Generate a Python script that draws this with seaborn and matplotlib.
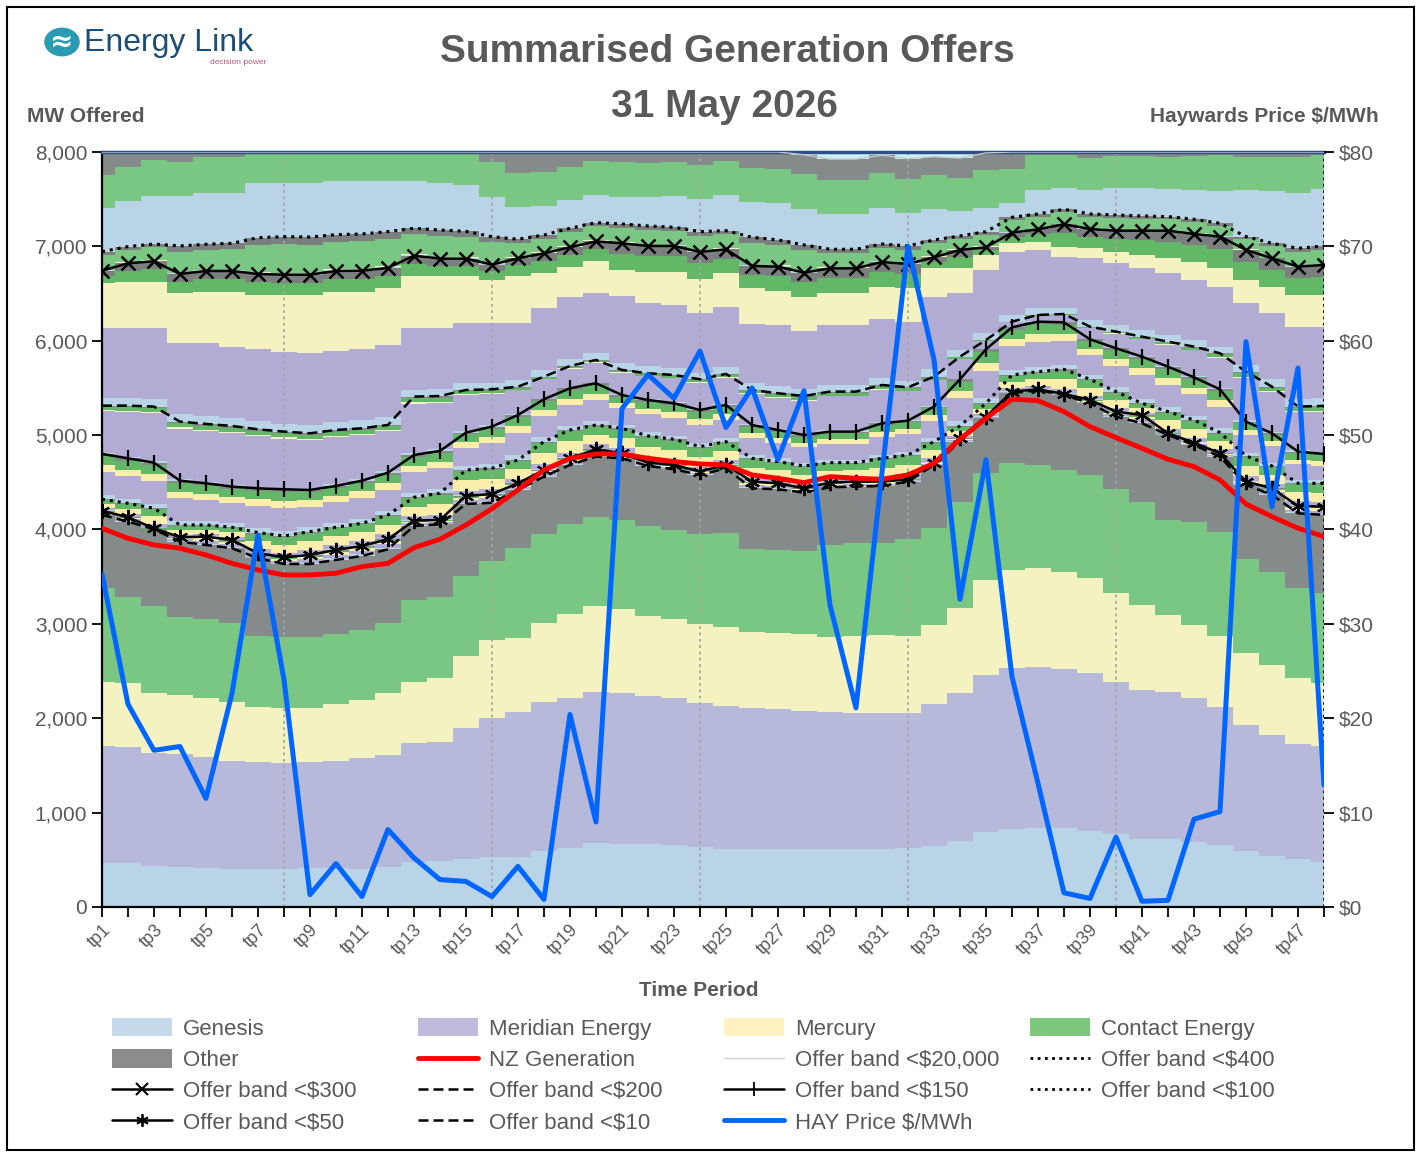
import numpy as np
import seaborn as sns
import matplotlib
matplotlib.use("Agg")
import matplotlib.pyplot as plt
from matplotlib.patches import Patch, Rectangle, Circle
from matplotlib.lines import Line2D

# ---- data (48 trading periods) ----
periods = [f"tp{i}" for i in range(1, 49)]

# cumulative offer band tops (MW)
band_10 = [4154, 4083, 4002, 3871, 3836, 3801, 3695, 3634, 3634, 3677, 3719, 3790, 4037, 4055, 4270, 4283,
           4419, 4560, 4684, 4772, 4754, 4673, 4638, 4578, 4648, 4436, 4426, 4390, 4447, 4454, 4461,
           4507, 4684, 4931, 5178, 5443, 5478, 5425, 5337, 5195, 5125, 5001, 4895, 4772, 4472, 4366, 4172, 4154]
band_50 = [4199, 4129, 4012, 3917, 3924, 3889, 3747, 3705, 3730, 3783, 3825, 3896, 4094, 4101, 4355, 4376,
           4489, 4630, 4754, 4849, 4807, 4708, 4684, 4613, 4684, 4507, 4489, 4436, 4496, 4507, 4507,
           4532, 4708, 4966, 5195, 5461, 5485, 5436, 5372, 5249, 5213, 5019, 4920, 4807, 4507, 4436, 4249, 4242]
band_100 = [4320, 4277, 4224, 4048, 4048, 4023, 3967, 3931, 3977, 4023, 4065, 4154, 4341, 4384, 4630, 4648,
            4736, 4931, 5054, 5107, 5072, 4991, 4956, 4878, 4931, 4754, 4719, 4673, 4708, 4708, 4754,
            4789, 4931, 5097, 5337, 5637, 5672, 5697, 5591, 5461, 5337, 5249, 5160, 5026, 4779, 4673, 4489, 4489]
band_150 = [4800, 4754, 4708, 4517, 4489, 4454, 4436, 4426, 4419, 4461, 4517, 4602, 4789, 4832, 5026, 5090,
            5213, 5380, 5496, 5549, 5425, 5372, 5337, 5266, 5319, 5107, 5054, 5001, 5037, 5037, 5125,
            5153, 5302, 5591, 5909, 6142, 6202, 6195, 6015, 5920, 5831, 5725, 5612, 5485, 5143, 5019, 4825, 4800]
band_200 = [5312, 5312, 5302, 5143, 5118, 5097, 5061, 5037, 5019, 5054, 5072, 5107, 5408, 5414, 5478, 5485,
            5513, 5619, 5732, 5796, 5690, 5655, 5637, 5591, 5648, 5478, 5443, 5414, 5461, 5461, 5531,
            5506, 5619, 5831, 6008, 6202, 6273, 6283, 6149, 6096, 6043, 5990, 5937, 5867, 5672, 5513, 5302, 5309]
band_300 = [6742, 6820, 6842, 6707, 6739, 6739, 6707, 6700, 6700, 6739, 6742, 6771, 6901, 6870, 6870, 6806,
            6873, 6926, 6990, 7053, 7032, 7004, 7004, 6940, 6969, 6792, 6785, 6721, 6767, 6767, 6834,
            6813, 6884, 6962, 6990, 7145, 7180, 7233, 7184, 7166, 7166, 7166, 7131, 7103, 6962, 6873, 6785, 6803]
band_400 = [6944, 6997, 7025, 7004, 7022, 7032, 7092, 7102, 7099, 7124, 7131, 7156, 7191, 7173, 7159, 7102,
            7075, 7120, 7191, 7251, 7237, 7216, 7202, 7156, 7166, 7096, 7068, 7015, 6969, 6969, 7025,
            7004, 7068, 7110, 7156, 7308, 7343, 7393, 7343, 7332, 7322, 7315, 7287, 7244, 7103, 7032, 6979, 7004]
band_20000 = [8000, 8000, 8000, 8000, 8000, 8000, 8000, 8000, 8000, 8000, 8000, 8000, 8000, 8000, 8000, 8000,
              8000, 8000, 8000, 8000, 8000, 8000, 8000, 8000, 8000, 8000, 8000, 7970, 7925, 7925, 7965,
              7930, 7950, 7935, 7990, 8000, 8000, 8000, 8000, 8000, 8000, 8000, 8000, 8000, 8000, 8000, 8000, 8000]

nz_generation = [4012, 3906, 3836, 3801, 3730, 3641, 3571, 3518, 3518, 3536, 3606, 3641, 3807, 3896, 4048, 4220,
                 4419, 4630, 4754, 4800, 4800, 4754, 4719, 4694, 4684, 4578, 4542, 4496, 4560, 4542, 4532,
                 4578, 4701, 4956, 5178, 5380, 5365, 5249, 5090, 4973, 4860, 4744, 4666, 4525, 4270, 4136, 4013, 3925]

hay_price = [35.3, 21.5, 16.6, 17.0, 11.5, 22.6, 39.4, 24.1, 1.3, 4.6, 1.1, 8.2, 5.2, 2.9, 2.7, 1.1,
             4.3, 0.8, 20.4, 9.0, 52.8, 56.4, 53.9, 58.9, 50.8, 55.0, 47.4, 54.7, 32.0, 21.1, 46.0,
             70.0, 58.0, 32.6, 47.4, 24.4, 13.1, 1.5, 0.9, 7.4, 0.6, 0.7, 9.3, 10.1, 59.9, 42.4, 57.1, 12.9]

# company splits inside the <$10 band (cumulative tops, MW)
genesis_10 = [470, 467, 434, 427, 410, 399, 399, 399, 410, 410, 399, 427, 480, 491, 505, 533,
              533, 597, 629, 682, 668, 668, 657, 639, 618, 618, 611, 611, 618, 618, 618,
              622, 646, 703, 798, 823, 834, 834, 800, 770, 717, 717, 692, 657, 597, 540, 505, 480]
meridian_10 = [1706, 1699, 1635, 1621, 1586, 1550, 1536, 1529, 1536, 1550, 1575, 1611, 1741, 1752, 1893, 2005,
               2070, 2169, 2218, 2282, 2271, 2236, 2218, 2158, 2133, 2105, 2095, 2080, 2063, 2052, 2052,
               2052, 2151, 2271, 2458, 2529, 2546, 2519, 2476, 2388, 2299, 2282, 2211, 2123, 1928, 1823, 1727, 1706]
mercury_10 = [2388, 2377, 2264, 2246, 2211, 2176, 2120, 2105, 2105, 2151, 2193, 2264, 2388, 2423, 2660, 2829,
              2847, 3006, 3105, 3189, 3161, 3083, 3052, 2999, 2970, 2911, 2900, 2889, 2864, 2871, 2882,
              2871, 2988, 3165, 3465, 3571, 3589, 3553, 3483, 3330, 3200, 3094, 2988, 2871, 2688, 2564, 2423, 2377]
contact_10 = [3377, 3281, 3189, 3076, 3055, 3006, 2871, 2857, 2857, 2893, 2935, 3006, 3253, 3281, 3507, 3669,
              3801, 3952, 4058, 4136, 4101, 4037, 3995, 3949, 3960, 3790, 3783, 3772, 3836, 3853, 3861,
              3896, 4012, 4295, 4595, 4701, 4684, 4630, 4578, 4426, 4295, 4101, 4083, 3970, 3684, 3553, 3377, 3330]

# company splits inside the <$300 band (cumulative tops, MW)
meridian_300 = [6132, 6132, 6132, 5973, 5973, 5937, 5909, 5884, 5867, 5895, 5909, 5955, 6132, 6132, 6185, 6191,
                6191, 6343, 6460, 6509, 6474, 6403, 6379, 6297, 6361, 6177, 6167, 6107, 6167, 6167, 6227,
                6202, 6467, 6502, 6750, 6944, 6962, 6891, 6873, 6820, 6767, 6714, 6644, 6573, 6397, 6291, 6149, 6149]
mercury_300 = [6608, 6626, 6626, 6502, 6520, 6520, 6485, 6485, 6485, 6520, 6520, 6555, 6686, 6686, 6686, 6644,
               6686, 6721, 6778, 6848, 6750, 6732, 6732, 6651, 6714, 6555, 6530, 6467, 6502, 6502, 6573,
               6555, 6767, 6767, 6909, 7032, 7050, 6997, 6979, 6944, 6909, 6873, 6838, 6767, 6644, 6573, 6485, 6485]

# company splits inside the <$20,000 band (cumulative tops, MW)
genesis_20000 = [7403, 7481, 7534, 7534, 7569, 7569, 7668, 7668, 7668, 7696, 7696, 7696, 7696, 7668, 7650, 7527,
                 7421, 7431, 7488, 7544, 7527, 7523, 7534, 7502, 7544, 7470, 7456, 7399, 7346, 7346, 7410,
                 7350, 7396, 7375, 7403, 7456, 7597, 7615, 7597, 7615, 7615, 7604, 7597, 7590, 7597, 7590, 7569, 7604]
contact_20000 = [7756, 7845, 7915, 7897, 7944, 7944, 7986, 7986, 7986, 7986, 7986, 7986, 7986, 7986, 7986, 7890,
                 7781, 7791, 7845, 7905, 7890, 7880, 7894, 7862, 7905, 7834, 7816, 7767, 7703, 7703, 7774,
                 7714, 7756, 7728, 7809, 7816, 7968, 7968, 7933, 7958, 7958, 7951, 7958, 7968, 7951, 7951, 7944, 7968]

# approximate company shares in the thin bands: Genesis, Meridian, Mercury, Contact, Other
share_50 = [0.15, 0.35, 0.30, 0.10, 0.10]
share_100 = [0.03, 0.17, 0.40, 0.35, 0.05]
share_150 = [0.10, 0.50, 0.15, 0.20, 0.05]
share_200 = [0.03, 0.85, 0.02, 0.07, 0.03]
share_400 = [0.03, 0.00, 0.02, 0.75, 0.20]
genesis_share_300 = 0.10
contact_share_300 = 0.60

# ---- styling ----
sns.set_style("white")
plt.rcParams["font.family"] = ["Liberation Sans", "DejaVu Sans"]
GREY_TXT = "#595959"

c_gen = "#b8d4e6"
c_mer = "#b2acd4"
c_mer_low = "#b7b9da"
c_mcy = "#f4f2c0"
c_mcy_hi = "#fbeeaa"
c_con = "#7ac784"
c_con_dk = "#62b866"
c_oth = "#858b8b"
c_oth_dk = "#7b7f7f"

x = np.arange(len(periods))

fig = plt.figure(figsize=(14.18, 11.53), dpi=100)
ax = fig.add_axes([0.0719, 0.2134, 0.8618, 0.6548])


def fill(lo, hi, color):
    ax.fill_between(x, lo, hi, step="mid", color=color, linewidth=0, zorder=1)


def fill_band(lo, hi, shares, colors):
    lo = np.asarray(lo, float)
    width = np.asarray(hi, float) - lo
    cum = lo.copy()
    for s, c in zip(shares, colors):
        top = cum + s * width
        if s > 0:
            fill(cum, top, c)
        cum = top


zero = np.zeros(len(x))
# <$10 band
fill(zero, genesis_10, c_gen)
fill(genesis_10, meridian_10, c_mer_low)
fill(meridian_10, mercury_10, c_mcy)
fill(mercury_10, contact_10, c_con)
fill(contact_10, band_10, c_oth)
# thin bands
fill_band(band_10, band_50, share_50, [c_gen, c_mer, c_mcy_hi, c_con_dk, c_oth])
fill_band(band_50, band_100, share_100, [c_gen, c_mer, c_mcy_hi, c_con_dk, c_oth])
fill_band(band_100, band_150, share_150, [c_gen, c_mer, c_mcy_hi, c_con_dk, c_oth])
fill_band(band_150, band_200, share_200, [c_gen, c_mer, c_mcy, c_con_dk, c_oth])
# <$300 band
b200 = np.asarray(band_200, float)
m300 = np.asarray(meridian_300, float)
y300 = np.asarray(mercury_300, float)
b300 = np.asarray(band_300, float)
g300 = b200 + genesis_share_300 * (m300 - b200)
k300 = y300 + contact_share_300 * (b300 - y300)
fill(b200, g300, c_gen)
fill(g300, m300, c_mer)
fill(m300, y300, c_mcy)
fill(y300, k300, c_con_dk)
fill(k300, b300, c_oth_dk)
# <$400 band
fill_band(band_300, band_400, share_400, [c_gen, c_mer, c_mcy, c_con, c_oth_dk])
# <$20,000 band
fill(band_400, genesis_20000, c_gen)
fill(genesis_20000, contact_20000, c_con)
fill(contact_20000, band_20000, c_oth)
ax.fill_between(x, band_20000, 8000, step="mid", color="#c9f1fb", linewidth=0, zorder=1)

# period gridlines every 8 periods
for i in range(7, 48, 8):
    ax.axvline(i, color="#a6a6a6" if i < 47 else "black", linestyle=(0, (1.5, 2)), linewidth=1.3, zorder=2)

# offer band lines
dot = (0, (1, 1.6))
dash = (0, (4, 2))
line_kw = dict(ax=ax, color="black", legend=False, zorder=3)
sns.lineplot(x=x, y=band_20000, ax=ax, color="#c8c8c8", linewidth=1, legend=False, zorder=3)
sns.lineplot(x=x, y=band_400, linestyle=dot, linewidth=2.2, **line_kw)
sns.lineplot(x=x, y=band_300, linewidth=1.8, marker="x", markersize=10, markeredgewidth=1.8,
             markeredgecolor="black", **line_kw)
sns.lineplot(x=x, y=band_200, linestyle=dash, linewidth=1.8, **line_kw)
sns.lineplot(x=x, y=band_150, linewidth=1.8, marker="|", markersize=11, markeredgewidth=1.6,
             markeredgecolor="black", **line_kw)
sns.lineplot(x=x, y=band_100, linestyle=dot, linewidth=2.2, **line_kw)
sns.lineplot(x=x, y=band_50, linewidth=1.8, marker=(6, 2, 0), markersize=11, markeredgewidth=1.5,
             markeredgecolor="black", **line_kw)
sns.lineplot(x=x, y=band_10, linestyle=dash, linewidth=1.8, **line_kw)
sns.lineplot(x=x, y=nz_generation, ax=ax, color="#ff0000", linewidth=3.5, legend=False, zorder=4)

ax.set_xlim(0, 47)
ax.set_ylim(0, 8000)
ax.set_yticks(range(0, 8001, 1000))
ax.set_yticklabels([f"{v:,}" for v in range(0, 8001, 1000)], fontsize=15, color=GREY_TXT)
ax.set_xticks(x)
ax.set_xticklabels([p if i % 2 == 0 else "" for i, p in enumerate(periods)], rotation=45,
                   ha="right", rotation_mode="anchor", fontsize=13, color=GREY_TXT)
ax.tick_params(axis="both", direction="out", length=7, width=1.3, color="black", left=True, bottom=True)
ax.set_xlabel("")
ax.set_ylabel("")
ax.grid(False)
for side in ["left", "bottom"]:
    ax.spines[side].set_color("black")
    ax.spines[side].set_linewidth(1.6)
ax.spines["top"].set_color("#2f4f86")
ax.spines["top"].set_linewidth(2.5)
ax.spines["right"].set_visible(False)

# price on the secondary axis
ax2 = ax.twinx()
sns.lineplot(x=x, y=hay_price, ax=ax2, color="#0066ff", linewidth=3.6, legend=False, zorder=5)
ax2.set_ylim(0, 80)
ax2.set_xlim(0, 47)
ax2.set_yticks(range(0, 81, 10))
ax2.set_yticklabels([f"${v}" for v in range(0, 81, 10)], fontsize=15, color=GREY_TXT)
ax2.tick_params(axis="y", direction="out", length=7, width=1.3, color="black", right=True)
ax2.set_ylabel("")
ax2.grid(False)
for side in ["left", "bottom", "top", "right"]:
    ax2.spines[side].set_visible(False)

# titles and labels
fig.text(0.513, 0.955, "Summarised Generation Offers", ha="center", va="center", fontsize=28,
         fontweight="bold", color=GREY_TXT)
fig.text(0.511, 0.907, "31 May 2026", ha="center", va="center", fontsize=28,
         fontweight="bold", color=GREY_TXT)
fig.text(0.019, 0.899, "MW Offered", ha="left", va="center", fontsize=15, fontweight="bold", color=GREY_TXT)
fig.text(0.972, 0.899, "Haywards Price $/MWh", ha="right", va="center", fontsize=15,
         fontweight="bold", color=GREY_TXT)
fig.text(0.493, 0.141, "Time Period", ha="center", va="center", fontsize=15, fontweight="bold", color=GREY_TXT)

# logo
fig.patches.append(Circle((62 / 1418, 1 - 42 / 1153), 0.0125, transform=fig.transFigure,
                          facecolor="#2b9bb3", edgecolor="none", figure=fig))
fig.text(62 / 1418, 1 - 42 / 1153, "≈", ha="center", va="center", fontsize=20, color="white",
         fontweight="bold", family="DejaVu Sans")
fig.text(84 / 1418, 1 - 43 / 1153, "Energy Link", ha="left", va="center", fontsize=23, color="#1d4f76")
fig.text(266 / 1418, 1 - 62 / 1153, "decision power", ha="right", va="center", fontsize=6, color="#c2527a")


# legend, built column by column
def area(c):
    return Patch(facecolor=c, edgecolor="none")


def ln(**kw):
    base = dict(color="black", linewidth=1.8)
    base.update(kw)
    return Line2D([], [], **base)


legend_cols = [
    [(area("#c5d9ea"), "Genesis"), (area("#8c8c8c"), "Other"),
     (ln(marker="x", markersize=8, markeredgewidth=1.5), "Offer band <$300"),
     (ln(marker=(6, 2, 0), markersize=9, markeredgewidth=1.3), "Offer band <$50")],
    [(area("#c0bbdc"), "Meridian Energy"), (ln(color="#ff0000", linewidth=3.5), "NZ Generation"),
     (ln(linestyle=dash), "Offer band <$200"), (ln(linestyle=dash), "Offer band <$10")],
    [(area("#fff2c0"), "Mercury"), (ln(color="#d0d0d0", linewidth=1), "Offer band <$20,000"),
     (ln(marker="|", markersize=10, markeredgewidth=1.3), "Offer band <$150"),
     (ln(color="#0066ff", linewidth=3.5), "HAY Price $/MWh")],
    [(area("#7dc77f"), "Contact Energy"), (ln(linestyle=dot, linewidth=2), "Offer band <$400"),
     (ln(linestyle=dot, linewidth=2), "Offer band <$100")],
]
col_x = [112, 418, 724, 1030]
for cx, items in zip(col_x, legend_cols):
    handles, labels = zip(*items)
    leg = fig.legend(handles, labels, loc="upper left", bbox_to_anchor=(cx / 1418, 1 - 1018 / 1153),
                     frameon=False, handlelength=2.7, handleheight=0.9, handletextpad=0.5,
                     labelspacing=0.42, borderpad=0, borderaxespad=0, prop={"size": 16})
    for t in leg.get_texts():
        t.set_color(GREY_TXT)

# outer frame
fig.patches.append(Rectangle((7 / 1418, 3 / 1153), 1407 / 1418, 1143 / 1153, transform=fig.transFigure,
                             fill=False, edgecolor="black", linewidth=1.5, figure=fig))

fig.savefig("out.png", dpi=100)
